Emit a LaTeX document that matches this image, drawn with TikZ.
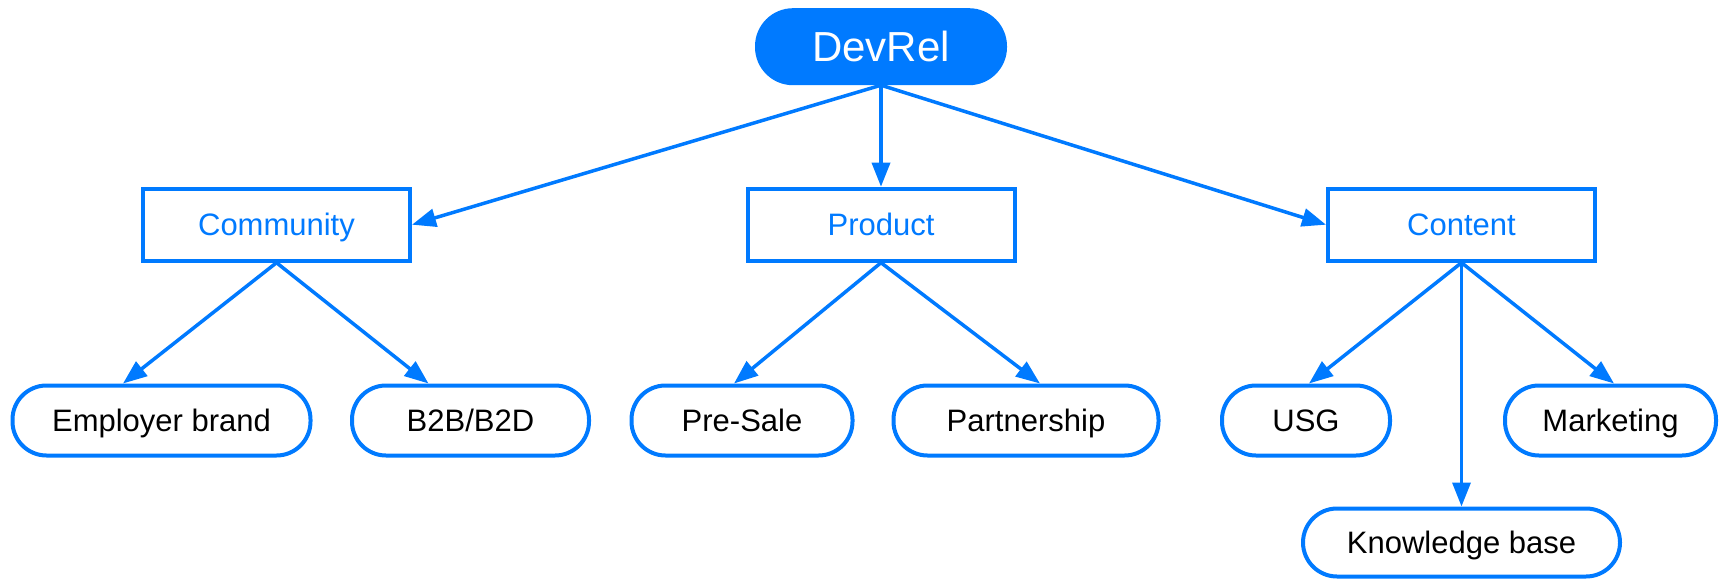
\documentclass[tikz,border=0pt]{standalone}
\usepackage{fontspec}
\setmainfont{Liberation Sans}
\usetikzlibrary{arrows.meta}
\definecolor{dblue}{RGB}{0,122,255}
\begin{document}
\begin{tikzpicture}[x=1pt,y=-1pt,
  every node/.style={inner sep=0pt, line width=4pt, draw=dblue},
  root/.style={fill=dblue, text=white, rounded corners=36pt, minimum width=248pt, minimum height=73pt, font=\fontsize{42}{48}\selectfont, text height=30pt, text depth=-1pt},
  midbox/.style={fill=white, text=dblue, minimum width=267pt, minimum height=72pt, font=\fontsize{31}{36}\selectfont, text height=22.2pt, text depth=0pt},
  leaf/.style={fill=white, text=black, rounded corners=34pt, minimum height=70pt, font=\fontsize{31}{36}\selectfont, text height=22.2pt, text depth=0pt},
  conn/.style={draw=dblue, line width=3.5pt, -{Triangle[length=24pt,width=18pt]}}
]
\useasboundingbox (0,0) rectangle (1721,581);

\node[root] (devrel) at (881,46.7) {DevRel};

\node[midbox] (community) at (276.5,224.7) {Community};
\node[midbox] (product) at (881,224.7) {Product};
\node[midbox] (content) at (1461.5,224.7) {Content};

\node[leaf, minimum width=298pt] (emp) at (161.5,420.5) {Employer brand};
\node[leaf, minimum width=237pt] (b2b) at (470.5,420.5) {B2B/B2D};
\node[leaf, minimum width=221pt] (presale) at (742,420.5) {Pre-Sale};
\node[leaf, minimum width=265pt] (partner) at (1026,420.5) {Partnership};
\node[leaf, minimum width=168pt] (usg) at (1306,420.5) {USG};
\node[leaf, minimum width=211pt] (mkt) at (1610.5,420.5) {Marketing};
\node[leaf, minimum width=317pt, minimum height=68pt] (kb) at (1461.5,542.5) {Knowledge base};

\draw[conn] (devrel.south) -- (community.east);
\draw[conn] (devrel.south) -- (product.north);
\draw[conn] (devrel.south) -- (content.west);

\draw[conn] (community.south) -- ([xshift=-38.5pt]emp.north);
\draw[conn] (community.south) -- ([xshift=-42pt]b2b.north);
\draw[conn] (product.south) -- ([xshift=-8pt]presale.north);
\draw[conn] (product.south) -- ([xshift=14pt]partner.north);
\draw[conn] (content.south) -- ([xshift=3pt]usg.north);
\draw[conn] (content.south) -- ([xshift=3.5pt]mkt.north);
\draw[conn] (content.south) -- (kb.north);
\end{tikzpicture}
\end{document}
